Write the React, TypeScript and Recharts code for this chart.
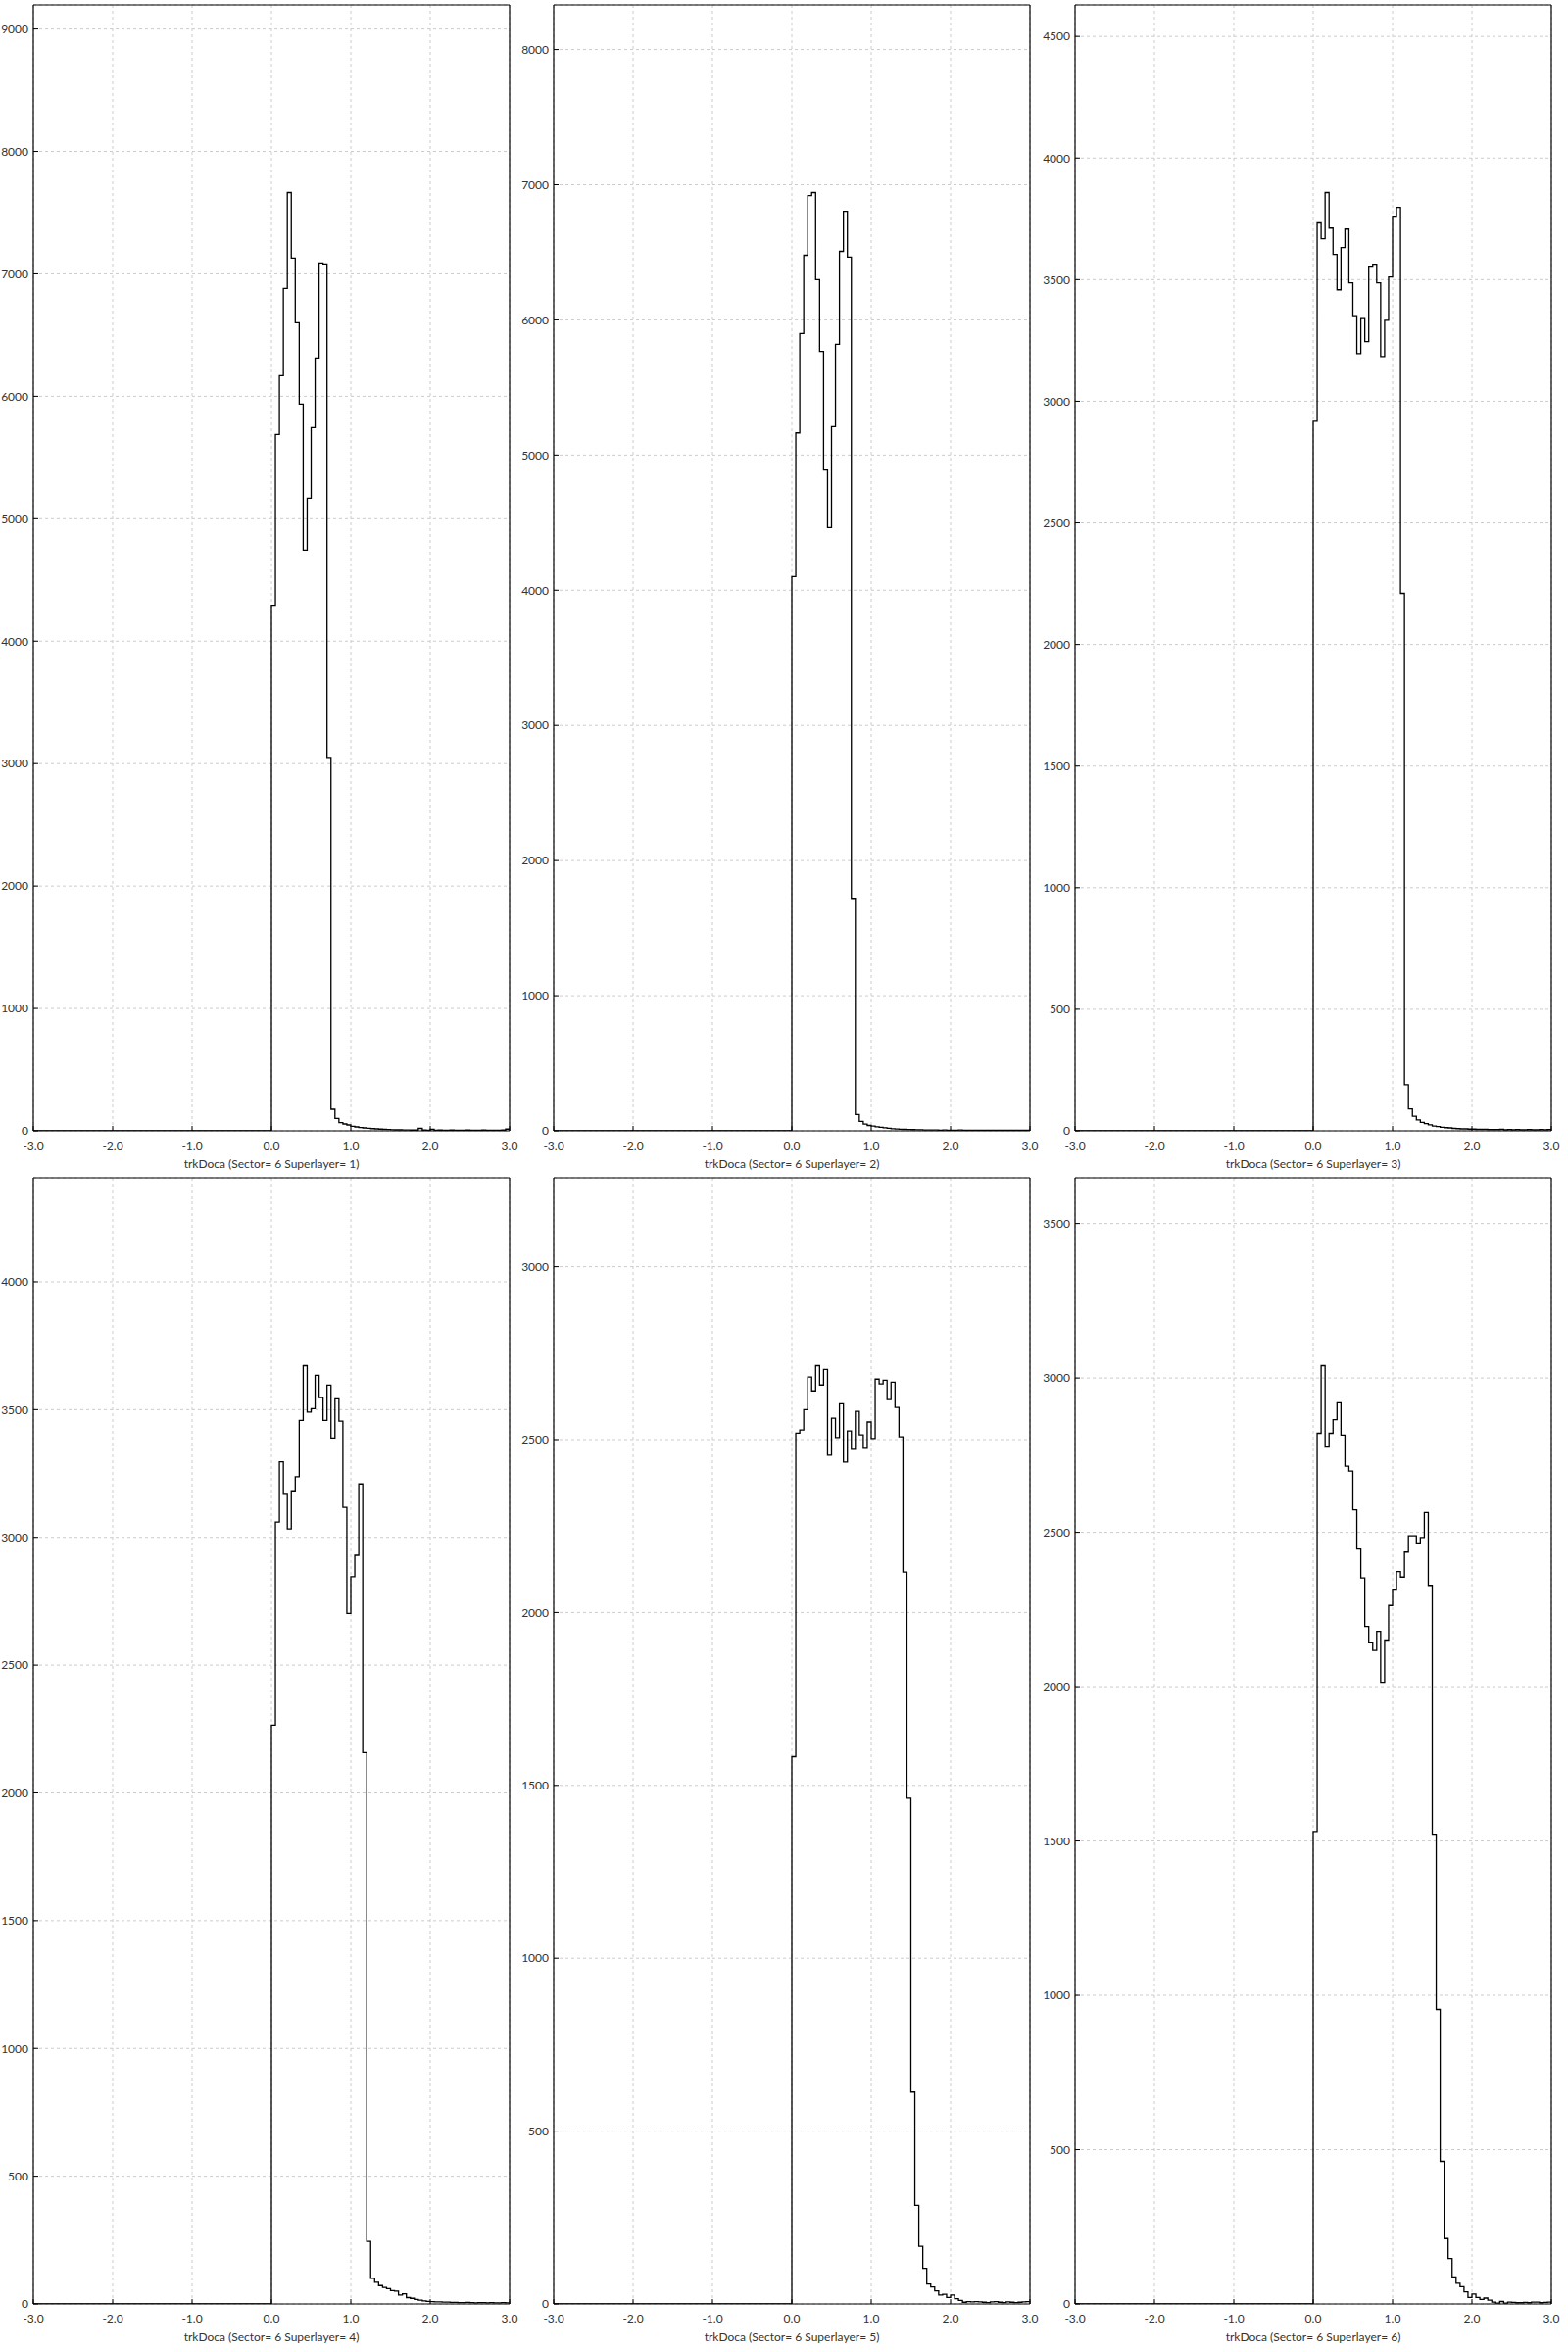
import React from 'react';
import { ComposedChart, Line, XAxis, YAxis, CartesianGrid } from 'recharts';

// Histogram binning (trkDoca), bins of width 0.05 from -3.0 to 3.0.
// Bins below 0.0 are empty; the arrays below list counts from 0.0 upward.
const BIN_WIDTH = 0.05;
const X_MIN = -3;
const X_MAX = 3;
const X_TICKS = [-3, -2, -1, 0, 1, 2, 3];
const SECTOR = 6;
const Y_HEADROOM = 1.2;

const SL1 = [
  4293, 5688, 6168, 6880, 7664, 7128, 6600, 5936, 4744, 5168,
  5744, 6312, 7088, 7080, 3050, 176, 101, 67, 56, 48,
  37, 32, 27, 24, 21, 18, 16, 14, 12, 11,
  9, 8, 8, 7, 7, 6, 6, 20, 6, 5,
  12, 5, 6, 5, 4, 6, 5, 4, 5, 6,
  4, 5, 4, 6, 5, 4, 5, 4, 6, 14,
];
const SL2 = [
  4101, 5164, 5899, 6478, 6920, 6942, 6297, 5766, 4889, 4464,
  5210, 5819, 6507, 6804, 6464, 1720, 120, 70, 50, 40,
  35, 30, 26, 22, 19, 16, 14, 12, 11, 10,
  9, 8, 8, 7, 7, 6, 6, 5, 6, 5,
  5, 5, 6, 4, 5, 5, 4, 5, 4, 5,
  4, 5, 4, 4, 5, 4, 4, 5, 4, 5,
];
const SL3 = [
  2918, 3733, 3668, 3858, 3712, 3604, 3458, 3632, 3708, 3487,
  3352, 3196, 3344, 3245, 3555, 3563, 3487, 3184, 3333, 3511,
  3761, 3797, 2210, 190, 90, 60, 45, 35, 30, 25,
  20, 18, 15, 13, 12, 10, 9, 8, 8, 7,
  7, 6, 6, 6, 5, 5, 5, 6, 4, 5,
  4, 5, 4, 4, 5, 4, 4, 5, 4, 5,
];
const SL4 = [
  2265, 3060, 3296, 3172, 3033, 3182, 3237, 3458, 3672, 3490,
  3504, 3634, 3547, 3458, 3596, 3389, 3542, 3455, 3117, 2702,
  2846, 2930, 3209, 2158, 245, 100, 85, 72, 65, 60,
  52, 50, 35, 40, 25, 22, 18, 15, 12, 10,
  9, 8, 8, 7, 7, 6, 6, 5, 5, 6,
  5, 4, 5, 5, 4, 5, 4, 4, 5, 4,
];
const SL5 = [
  1583, 2519, 2528, 2587, 2681, 2641, 2714, 2658, 2703, 2455,
  2562, 2506, 2604, 2435, 2525, 2472, 2582, 2514, 2475, 2551,
  2503, 2675, 2661, 2672, 2616, 2666, 2593, 2508, 2117, 1463,
  613, 285, 167, 103, 58, 49, 38, 26, 28, 19,
  26, 15, 10, 5, 7, 6, 7, 6, 5, 4,
  6, 7, 5, 4, 6, 5, 4, 5, 6, 7,
];
const SL6 = [
  1531, 2821, 3040, 2776, 2821, 2865, 2920, 2815, 2714, 2698,
  2573, 2446, 2352, 2195, 2142, 2117, 2179, 2014, 2151, 2263,
  2316, 2373, 2355, 2436, 2489, 2489, 2466, 2483, 2564, 2328,
  1522, 954, 462, 212, 147, 88, 67, 56, 39, 21,
  32, 21, 15, 19, 12, 6, 3, 8, 3, 6,
  5, 4, 4, 5, 4, 6, 6, 4, 5, 6,
];

const SUPERLAYERS = [1, 2, 3, 4, 5, 6];
const COUNTS = [SL1, SL2, SL3, SL4, SL5, SL6];
const Y_TICKS_1 = [0, 1000, 2000, 3000, 4000, 5000, 6000, 7000, 8000, 9000];
const Y_TICKS_2 = [0, 1000, 2000, 3000, 4000, 5000, 6000, 7000, 8000];
const Y_TICKS_3 = [0, 500, 1000, 1500, 2000, 2500, 3000, 3500, 4000, 4500];
const Y_TICKS_4 = [0, 500, 1000, 1500, 2000, 2500, 3000, 3500, 4000];
const Y_TICKS_5 = [0, 500, 1000, 1500, 2000, 2500, 3000];
const Y_TICKS_6 = [0, 500, 1000, 1500, 2000, 2500, 3000, 3500];
const Y_TICKS = [Y_TICKS_1, Y_TICKS_2, Y_TICKS_3, Y_TICKS_4, Y_TICKS_5, Y_TICKS_6];

const FONT = 'Lato, "Open Sans", sans-serif';
const TEXT_COLOR = '#333';
const GRID_COLOR = '#cccccc';

function buildData(counts: number[]) {
  const pts: { x: number; y: number }[] = [{ x: X_MIN, y: 0 }];
  counts.forEach((c, i) => pts.push({ x: i * BIN_WIDTH, y: c }));
  pts.push({ x: X_MAX, y: counts[counts.length - 1] });
  return pts;
}

const PANEL_W = 533;
const PANEL_H = 1200;
const COL_LEFT = [0, 531, 1063];
const ROW_TOP = [0, 1197];

function Panel({ idx }: { idx: number }) {
  const counts = COUNTS[idx];
  const data = buildData(counts);
  const ymax = Math.max(...counts) * Y_HEADROOM;
  const yTicks = Y_TICKS[idx];
  const sl = SUPERLAYERS[idx];
  const tickStyle = { fontSize: 12, fill: TEXT_COLOR, fontFamily: FONT };
  const frame = { stroke: '#000', strokeWidth: 1.2 };
  return (
    <ComposedChart
      width={PANEL_W}
      height={PANEL_H}
      data={data}
      margin={{ top: 4, right: 12, bottom: 0, left: 0 }}
    >
      <CartesianGrid
        xAxisId="b"
        yAxisId="l"
        stroke={GRID_COLOR}
        strokeDasharray="3 3"
      />
      <XAxis
        xAxisId="t"
        orientation="top"
        type="number"
        dataKey="x"
        domain={[X_MIN, X_MAX]}
        ticks={X_TICKS}
        allowDataOverflow
        interval={0}
        height={1}
        tickSize={-5}
        tick={false}
        axisLine={frame}
        tickLine={{ stroke: '#000' }}
      />
      <XAxis
        xAxisId="b"
        orientation="bottom"
        type="number"
        dataKey="x"
        domain={[X_MIN, X_MAX]}
        ticks={X_TICKS}
        allowDataOverflow
        interval={0}
        height={46}
        tickSize={-5}
        tickMargin={15}
        tickFormatter={(v: number) => v.toFixed(1)}
        tick={tickStyle}
        axisLine={frame}
        tickLine={{ stroke: '#000' }}
        label={{
          value: `trkDoca (Sector= ${SECTOR} Superlayer= ${sl})`,
          position: 'insideBottom',
          offset: 8,
          fontSize: 12,
          fill: TEXT_COLOR,
          fontFamily: FONT,
        }}
      />
      <YAxis
        yAxisId="l"
        orientation="left"
        type="number"
        domain={[0, ymax]}
        ticks={yTicks}
        allowDataOverflow
        interval={0}
        width={34}
        tickSize={-5}
        tickMargin={10}
        tick={tickStyle}
        axisLine={frame}
        tickLine={{ stroke: '#000' }}
      />
      <YAxis
        yAxisId="r"
        orientation="right"
        type="number"
        domain={[0, ymax]}
        ticks={yTicks}
        allowDataOverflow
        interval={0}
        width={1}
        tickSize={-5}
        tick={false}
        axisLine={frame}
        tickLine={{ stroke: '#000' }}
      />
      <Line
        xAxisId="b"
        yAxisId="l"
        type="stepAfter"
        dataKey="y"
        stroke="#000"
        strokeWidth={1.3}
        dot={false}
        activeDot={false}
        isAnimationActive={false}
      />
    </ComposedChart>
  );
}

export default function App() {
  return (
    <div
      style={{
        position: 'absolute',
        left: 0,
        top: 0,
        width: 1600,
        height: 2400,
        background: '#fff',
        fontFamily: FONT,
      }}
    >
      {SUPERLAYERS.map((_, idx) => (
        <div
          key={idx}
          style={{
            position: 'absolute',
            left: COL_LEFT[idx % 3],
            top: ROW_TOP[Math.floor(idx / 3)],
          }}
        >
          <Panel idx={idx} />
        </div>
      ))}
    </div>
  );
}
